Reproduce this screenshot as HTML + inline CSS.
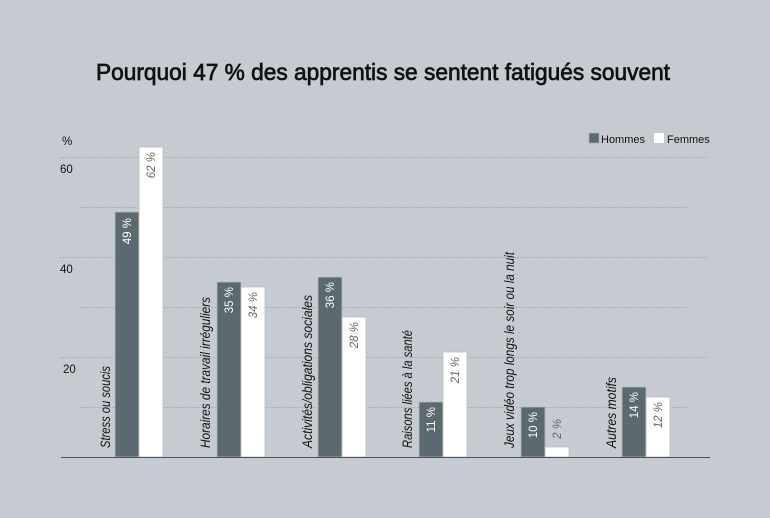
<!DOCTYPE html>
<html><head><meta charset="utf-8"><style>
html,body{margin:0;padding:0;background:#c5cbd1;}
svg{display:block;font-family:"Liberation Sans",sans-serif;}
</style></head><body>
<svg width="770" height="518" viewBox="0 0 770 518" xmlns="http://www.w3.org/2000/svg">
<rect width="770" height="518" fill="#c5cbd1"/>
<text x="96" y="80" font-size="23" fill="#111" stroke="#111" stroke-width="0.7" textLength="574" lengthAdjust="spacingAndGlyphs">Pourquoi 47 % des apprentis se sentent fatigués souvent</text>

<g stroke="#8a949a" stroke-width="1" stroke-dasharray="1,2.2">
<line x1="60" y1="157.5" x2="708" y2="157.5"/>
<line x1="81" y1="207.5" x2="688" y2="207.5"/>
<line x1="60" y1="257.5" x2="708" y2="257.5"/>
<line x1="81" y1="307.5" x2="688" y2="307.5"/>
<line x1="60" y1="357.5" x2="708" y2="357.5"/>
<line x1="81" y1="407.5" x2="688" y2="407.5"/>
</g>

<g font-size="11.5" fill="#111">
<text x="62" y="145">%</text>
<text x="60" y="173">60</text>
<text x="60" y="273">40</text>
<text x="63" y="373">20</text>
</g>

<rect x="589" y="133" width="10" height="10" fill="#5a6a6f" stroke="#a9b2b8" stroke-width="0.7"/>
<text x="601" y="143" font-size="11" fill="#111">Hommes</text>
<rect x="654" y="133" width="10" height="10" fill="#fff"/>
<text x="667" y="143" font-size="11" fill="#111">Femmes</text>

<g stroke="#b4bcc2" stroke-width="0.8">
<rect x="115" y="212" width="24" height="245" fill="#5a6a6f"/>
<rect x="139" y="147" width="24" height="310" fill="#fff"/>
<rect x="217" y="282" width="24" height="175" fill="#5a6a6f"/>
<rect x="241" y="287" width="24" height="170" fill="#fff"/>
<rect x="318" y="277" width="24" height="180" fill="#5a6a6f"/>
<rect x="342" y="317" width="24" height="140" fill="#fff"/>
<rect x="419" y="402" width="24" height="55" fill="#5a6a6f"/>
<rect x="443" y="352" width="24" height="105" fill="#fff"/>
<rect x="521" y="407" width="24" height="50" fill="#5a6a6f"/>
<rect x="545" y="447" width="24" height="10" fill="#fff"/>
<rect x="622" y="387" width="24" height="70" fill="#5a6a6f"/>
<rect x="646" y="397" width="24" height="60" fill="#fff"/>
</g>

<line x1="61" y1="457.5" x2="710" y2="457.5" stroke="#4a5458" stroke-width="1"/>

<g font-size="11.5" text-anchor="end">
<text transform="translate(131,218) rotate(-90)" fill="#fff">49 %</text>
<text transform="translate(155,152) rotate(-90)" fill="#666" font-style="italic">62 %</text>
<text transform="translate(233,287) rotate(-90)" fill="#fff">35 %</text>
<text transform="translate(257,292) rotate(-90)" fill="#666" font-style="italic">34 %</text>
<text transform="translate(334,282) rotate(-90)" fill="#fff">36 %</text>
<text transform="translate(358,322) rotate(-90)" fill="#666" font-style="italic">28 %</text>
<text transform="translate(435,407) rotate(-90)" fill="#fff">11 %</text>
<text transform="translate(459,357) rotate(-90)" fill="#666" font-style="italic">21 %</text>
<text transform="translate(537,412) rotate(-90)" fill="#fff">10 %</text>
<text transform="translate(561,419) rotate(-90)" fill="#666" font-style="italic">2 %</text>
<text transform="translate(638,392) rotate(-90)" fill="#fff">14 %</text>
<text transform="translate(662,402) rotate(-90)" fill="#666" font-style="italic">12 %</text>
</g>

<g font-size="13.5" font-style="italic" fill="#111">
<text transform="translate(110,448) rotate(-90)" textLength="82" lengthAdjust="spacingAndGlyphs">Stress ou soucis</text>
<text transform="translate(210,448) rotate(-90)" textLength="151" lengthAdjust="spacingAndGlyphs">Horaires de travail irréguliers</text>
<text transform="translate(312,448) rotate(-90)" textLength="153" lengthAdjust="spacingAndGlyphs">Activités/obligations sociales</text>
<text transform="translate(412,448) rotate(-90)" textLength="118" lengthAdjust="spacingAndGlyphs">Raisons liées à la santé</text>
<text transform="translate(514,448) rotate(-90)" textLength="196" lengthAdjust="spacingAndGlyphs">Jeux vidéo trop longs le soir ou la nuit</text>
<text transform="translate(616,448) rotate(-90)" textLength="71" lengthAdjust="spacingAndGlyphs">Autres motifs</text>
</g>
</svg>
</body></html>
